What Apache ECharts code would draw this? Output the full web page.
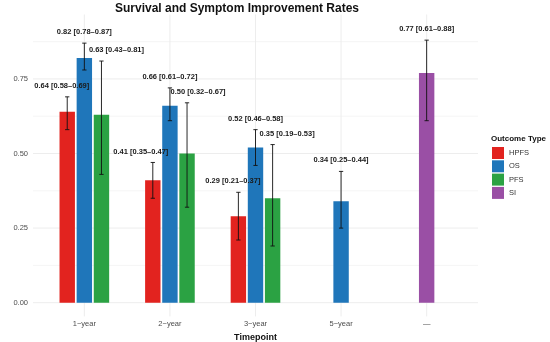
<!DOCTYPE html>
<html>
<head>
<meta charset="utf-8">
<script src="https://cdn.jsdelivr.net/npm/echarts@6/dist/echarts.min.js"></script>
<style>html,body{margin:0;padding:0;background:#fff}#c{width:550px;height:342px}</style>
</head>
<body>
<div id="c"></div>
<script>
// ---- data ----
var categories = ['1\u2212year', '2\u2212year', '3\u2212year', '5\u2212year', '\u2014'];
var outcomes = ['HPFS', 'OS', 'PFS', 'SI'];
var hpfsRate  = [0.64, 0.41, 0.29, null, null];
var hpfsLower = [0.58, 0.35, 0.21, null, null];
var hpfsUpper = [0.69, 0.47, 0.37, null, null];
var osRate    = [0.82, 0.66, 0.52, 0.34, null];
var osLower   = [0.78, 0.61, 0.46, 0.25, null];
var osUpper   = [0.87, 0.72, 0.58, 0.44, null];
var pfsRate   = [0.63, 0.50, 0.35, null, null];
var pfsLower  = [0.43, 0.32, 0.19, null, null];
var pfsUpper  = [0.81, 0.67, 0.53, null, null];
var siRate    = [null, null, null, null, 0.77];
var siLower   = [null, null, null, null, 0.61];
var siUpper   = [null, null, null, null, 0.88];
var yTickLabels = [0, 0.25, 0.5, 0.75];
var yMinorTicks = [0.125, 0.375, 0.625, 0.875];

// ---- layout / style (not data) ----
var colors = {HPFS: '#E2231F', OS: '#1F76BA', PFS: '#2BA243', SI: '#9A4FA5'};
var labelNudge = {HPFS: [-5.5, -12, -5.5, 0, 0], OS: [0, 0, 0, 0, 0], PFS: [15, 11, 14.5, 0, 0], SI: [0, 0, 0, 0, 0]};
var FONT = "'Liberation Sans', Arial, Helvetica, sans-serif";
var dodge = 0.2, barW = 0.18, capW = 0.05;

var rates = {HPFS: hpfsRate, OS: osRate, PFS: pfsRate, SI: siRate};
var lowers = {HPFS: hpfsLower, OS: osLower, PFS: pfsLower, SI: siLower};
var uppers = {HPFS: hpfsUpper, OS: osUpper, PFS: pfsUpper, SI: siUpper};

function fmt(v) { return v.toFixed(2); }

var series = [];
// gridlines
var gridData = [];
yTickLabels.forEach(function (v) { gridData.push(['h', v, 1]); });
yMinorTicks.forEach(function (v) { gridData.push(['h', v, 0]); });
categories.forEach(function (c, i) { gridData.push(['v', i + 1, 1]); });
series.push({
  type: 'custom', name: 'grid', silent: true, z: 0, clip: false,
  data: gridData, legendHoverLink: false,
  renderItem: function (params, api) {
    var kind = gridData[params.dataIndex][0];
    var val = gridData[params.dataIndex][1];
    var major = gridData[params.dataIndex][2];
    var cs = params.coordSys;
    var shape;
    if (kind === 'h') {
      var y = api.coord([1, val])[1];
      shape = {x1: cs.x, y1: y, x2: cs.x + cs.width, y2: y};
    } else {
      var x = api.coord([val, 0])[0];
      shape = {x1: x, y1: cs.y, x2: x, y2: cs.y + cs.height};
    }
    return {type: 'line', shape: shape, style: {stroke: '#EBEBEB', lineWidth: major ? 0.9 : 0.5}};
  }
});

outcomes.forEach(function (name, si) {
  var data = [];
  for (var i = 0; i < categories.length; i++) {
    var v = rates[name][i];
    if (v == null) continue;
    var present = outcomes.filter(function (o) { return rates[o][i] != null; });
    var idx = present.indexOf(name);
    var off = (idx - (present.length - 1) / 2) * dodge;
    data.push([i + 1 + off, v, lowers[name][i], uppers[name][i], i]);
  }
  series.push({
    type: 'custom', name: name, z: 2, clip: false,
    itemStyle: {color: colors[name]},
    data: data,
    encode: {x: 0, y: 1},
    renderItem: function (params, api) {
      var d = data[params.dataIndex];
      var x = d[0], v = d[1], lo = d[2], hi = d[3], ci = d[4];
      var p0 = api.coord([x - barW / 2, v]);
      var p1 = api.coord([x + barW / 2, 0]);
      var pc = api.coord([x, lo]);
      var ph = api.coord([x, hi]);
      var capL = api.coord([x - capW / 2, hi])[0];
      var capR = api.coord([x + capW / 2, hi])[0];
      var errStyle = {stroke: '#111', lineWidth: 0.9};
      return {
        type: 'group',
        children: [
          {type: 'rect', shape: {x: p0[0], y: p0[1], width: p1[0] - p0[0], height: p1[1] - p0[1]}, style: {fill: colors[name]}},
          {type: 'line', shape: {x1: pc[0], y1: pc[1], x2: ph[0], y2: ph[1]}, style: errStyle, z2: 5},
          {type: 'line', shape: {x1: capL, y1: ph[1], x2: capR, y2: ph[1]}, style: errStyle, z2: 5},
          {type: 'line', shape: {x1: capL, y1: pc[1], x2: capR, y2: pc[1]}, style: errStyle, z2: 5},
          {type: 'text', z2: 10, style: {
            text: fmt(v) + ' [' + fmt(lo) + '\u2013' + fmt(hi) + ']',
            x: ph[0] + labelNudge[name][ci], y: ph[1] - 11,
            align: 'center', verticalAlign: 'middle',
            font: 'bold 7.5px ' + FONT, fill: '#1a1a1a'
          }}
        ]
      };
    }
  });
});

var chart = echarts.init(document.getElementById('c'), null, {renderer: 'canvas'});
chart.setOption({
  animation: false,
  backgroundColor: '#ffffff',
  title: {
    text: 'Survival and Symptom Improvement Rates',
    left: 237, top: 3, textAlign: 'center', padding: 0,
    textStyle: {fontFamily: FONT, fontSize: 12, fontWeight: 'bold', color: '#111'}
  },
  grid: {left: 33, right: 72, top: 14.5, bottom: 25.6, containLabel: false, outerBoundsMode: 'none'},
  xAxis: {
    type: 'value', min: 0.4, max: 5.6,
    splitLine: {show: false}, axisLine: {show: false}, axisTick: {show: false},
    axisLabel: {
      customValues: [1, 2, 3, 4, 5],
      formatter: function (v) { return categories[Math.round(v) - 1] || ''; },
      margin: 4, fontSize: 7.5, color: '#4D4D4D', fontFamily: FONT
    },
    name: 'Timepoint', nameLocation: 'middle', nameGap: 15,
    nameTextStyle: {fontFamily: FONT, fontSize: 9, fontWeight: 'bold', color: '#111'}
  },
  yAxis: {
    type: 'value', min: -0.046, max: 0.966,
    splitLine: {show: false}, axisLine: {show: false}, axisTick: {show: false},
    axisLabel: {
      customValues: yTickLabels,
      formatter: function (v) { return fmt(v); },
      margin: 5, fontSize: 7.5, color: '#4D4D4D', fontFamily: FONT
    },
    name: 'Pooled Rate', nameLocation: 'middle', nameGap: 25, nameRotate: 90,
    nameTextStyle: {fontFamily: FONT, fontSize: 9, fontWeight: 'bold', color: '#111'}
  },
  legend: {
    data: outcomes.map(function (o) { return {name: o, icon: 'rect'}; }),
    orient: 'vertical', left: 492, top: 147, padding: 0,
    itemWidth: 12, itemHeight: 12, itemGap: 1.3,
    textStyle: {fontFamily: FONT, fontSize: 7.5, color: '#333'},
    selectedMode: false
  },
  graphic: [{
    type: 'text', left: 491, top: 135,
    style: {text: 'Outcome Type', font: 'bold 8px ' + FONT, fill: '#111'}
  }],
  series: series
});
</script>
</body>
</html>
